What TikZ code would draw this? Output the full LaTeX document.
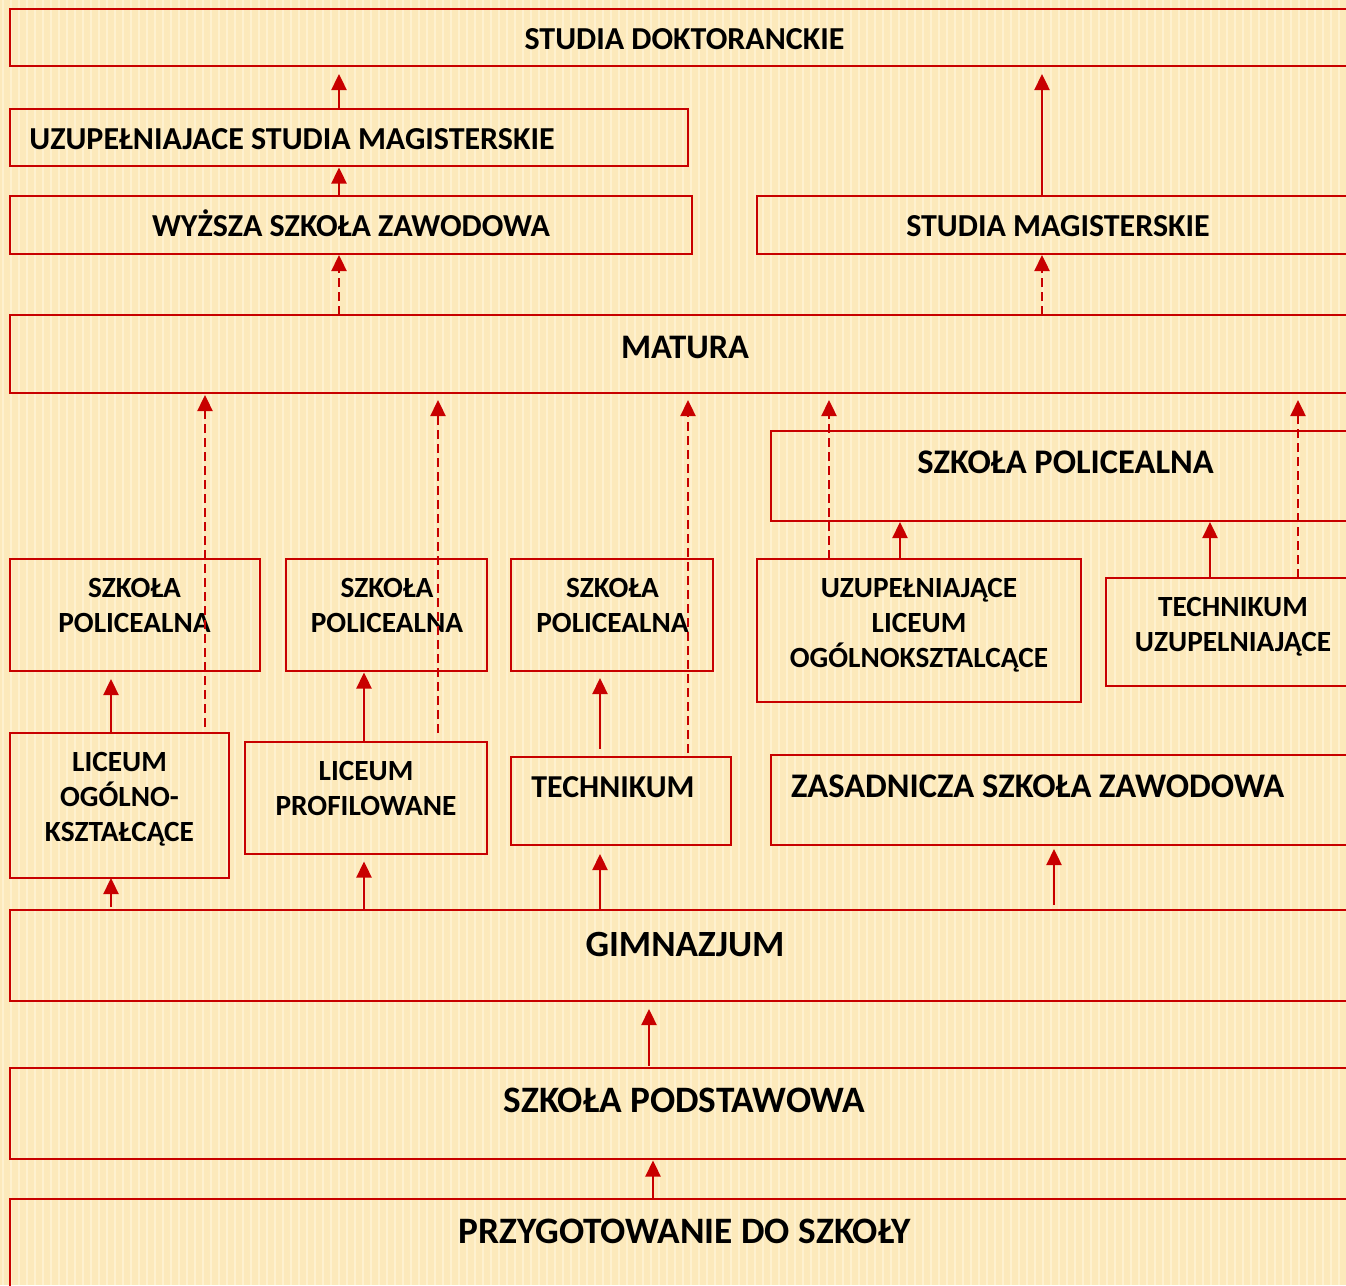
\documentclass[tikz,border=0pt]{standalone}
\usepackage{fontspec}
\setmainfont{Carlito}
\usetikzlibrary{arrows.meta}
\definecolor{bg}{RGB}{252,233,187}
\definecolor{stripe}{RGB}{254,241,207}
\definecolor{rd}{RGB}{200,0,0}
\begin{document}
\begin{tikzpicture}[x=1pt,y=-1pt,
  box/.style={draw=rd, line width=2pt, anchor=north west, inner sep=0pt, outer sep=0pt},
  lbl/.style={text=black, inner sep=0pt, anchor=base, align=center},
  fA/.style={font=\fontsize{32}{38}\selectfont\bfseries},
  fB/.style={font=\fontsize{37.3}{44}\selectfont\bfseries},
  fC/.style={font=\fontsize{29.3}{35}\selectfont\bfseries},
  fD/.style={font=\fontsize{34.5}{41}\selectfont\bfseries},
  arr/.style={draw=rd, line width=2.4pt, -{Triangle[width=15pt,length=16pt]}},
  darr/.style={arr, dash pattern=on 9pt off 5pt},
  stripeline/.style={draw=stripe, line width=2.5pt},
]
\useasboundingbox (0,0) rectangle (1346,1285);
\clip (0,0) rectangle (1346,1285);
\fill[bg] (0,0) rectangle (1346,1285);
\foreach \sx in {3,11,...,1346} {\path[stripeline] (\sx,0) -- (\sx,1285);}

% boxes
\node[box, minimum width=1350pt, minimum height=57pt] (doc) at (10,9) {};
\node[box, minimum width=678pt, minimum height=57pt] (usm) at (10,109) {};
\node[box, minimum width=682pt, minimum height=58pt] (wsz) at (10,196) {};
\node[box, minimum width=600pt, minimum height=58pt] (sm) at (757,196) {};
\node[box, minimum width=1350pt, minimum height=78pt] (mat) at (10,315) {};
\node[box, minimum width=590pt, minimum height=90pt] (spb) at (771,431) {};
\node[box, minimum width=250pt, minimum height=112pt] (sp1) at (10,559) {};
\node[box, minimum width=201pt, minimum height=112pt] (sp2) at (286,559) {};
\node[box, minimum width=202pt, minimum height=112pt] (sp3) at (511,559) {};
\node[box, minimum width=324pt, minimum height=143pt] (ulo) at (757,559) {};
\node[box, minimum width=260pt, minimum height=108pt] (tu) at (1106,578) {};
\node[box, minimum width=219pt, minimum height=145pt] (lo) at (10,733) {};
\node[box, minimum width=242pt, minimum height=112pt] (lp) at (245,742) {};
\node[box, minimum width=220pt, minimum height=88pt] (tech) at (511,757) {};
\node[box, minimum width=590pt, minimum height=90pt] (zsz) at (771,755) {};
\node[box, minimum width=1350pt, minimum height=91pt] (gim) at (10,910) {};
\node[box, minimum width=1350pt, minimum height=91pt] (spd) at (10,1068) {};
\node[box, minimum width=1350pt, minimum height=120pt] (prz) at (10,1199) {};

% labels (multi-line: base = last line)
\node[lbl, fA] (tdoc) at (684.5,49.5) {STUDIA DOKTORANCKIE};
\node[lbl, fA] (tusm) at (292,149) {UZUPEŁNIAJACE STUDIA MAGISTERSKIE};
\node[lbl, fA] (twsz) at (351,236) {WYŻSZA SZKOŁA ZAWODOWA};
\node[lbl, fA] (tsm) at (1058,236) {STUDIA MAGISTERSKIE};
\node[lbl, font=\fontsize{34.4}{41}\selectfont\bfseries] (tmat) at (685,358) {MATURA};
\node[lbl, fD] (tspb) at (1065.5,473) {SZKOŁA POLICEALNA};
\node[lbl, fC] (tsp1) at (134.5,632) {SZKOŁA\\POLICEALNA};
\node[lbl, fC] (tsp2) at (387,632) {SZKOŁA\\POLICEALNA};
\node[lbl, fC] (tsp3) at (612.5,632) {SZKOŁA\\POLICEALNA};
\node[lbl, fC] (tulo) at (919,667) {UZUPEŁNIAJĄCE\\LICEUM\\OGÓLNOKSZTALCĄCE};
\node[lbl, fC] (ttu) at (1233,651) {TECHNIKUM\\UZUPELNIAJĄCE};
\node[lbl, fC] (tlo) at (119.5,841.5) {LICEUM\\OGÓLNO-\\KSZTAŁCĄCE};
\node[lbl, fC] (tlp) at (366,815) {LICEUM\\PROFILOWANE};
\node[lbl, font=\fontsize{31.9}{38}\selectfont\bfseries] (ttech) at (613,797) {TECHNIKUM};
\node[lbl, fD, anchor=base west] (tzsz) at (791,797) {ZASADNICZA SZKOŁA ZAWODOWA};
\node[lbl, font=\fontsize{37}{44}\selectfont\bfseries] (tgim) at (685,956) {GIMNAZJUM};
\node[lbl, fB] (tspd) at (684.5,1112) {SZKOŁA PODSTAWOWA};
\node[lbl, fB] (tprz) at (685,1243) {PRZYGOTOWANIE DO SZKOŁY};

% arrow columns
\coordinate (c111) at (111,0);
\coordinate (c205) at (205,0);
\coordinate (c339) at (339,0);
\coordinate (c364) at (364,0);
\coordinate (c438) at (438,0);
\coordinate (c600) at (600,0);
\coordinate (c649) at (649,0);
\coordinate (c653) at (653,0);
\coordinate (c688) at (688,0);
\coordinate (c829) at (829,0);
\coordinate (c900) at (900,0);
\coordinate (c1042) at (1042,0);
\coordinate (c1054) at (1054,0);
\coordinate (c1210) at (1210,0);
\coordinate (c1298) at (1298,0);

% arrows
\draw[arr, shorten >=8pt] (usm.north -| c339) -- (doc.south -| c339);
\draw[arr, shorten >=1.5pt] (wsz.north -| c339) -- (usm.south -| c339);
\draw[darr, shorten >=1pt] (mat.north -| c339) -- (wsz.south -| c339);
\draw[arr, shorten >=8pt] (sm.north -| c1042) -- (doc.south -| c1042);
\draw[darr, shorten >=1pt] (mat.north -| c1042) -- (sm.south -| c1042);

\draw[darr, shorten <=6pt, shorten >=2pt] (lo.north -| c205) -- (mat.south -| c205);
\draw[darr, shorten <=9pt, shorten >=7pt] (lp.north -| c438) -- (mat.south -| c438);
\draw[darr, shorten <=4pt, shorten >=7pt] (tech.north -| c688) -- (mat.south -| c688);
\draw[darr, shorten >=7pt] (ulo.north -| c829) -- (mat.south -| c829);
\draw[darr, shorten >=7pt] (tu.north -| c1298) -- (mat.south -| c1298);

\draw[arr, shorten >=1pt] (ulo.north -| c900) -- (spb.south -| c900);
\draw[arr, shorten >=1pt] (tu.north -| c1210) -- (spb.south -| c1210);

\draw[arr, shorten >=8pt] (lo.north -| c111) -- (sp1.south -| c111);
\draw[arr, shorten >=1.5pt] (lp.north -| c364) -- (sp2.south -| c364);
\draw[arr, shorten <=8.5pt, shorten >=7pt] (tech.north -| c600) -- (sp3.south -| c600);

\draw[arr, shorten <=3pt] (gim.north -| c111) -- (lo.south -| c111);
\draw[arr, shorten >=7.5pt] (gim.north -| c364) -- (lp.south -| c364);
\draw[arr, shorten >=9pt] (gim.north -| c600) -- (tech.south -| c600);
\draw[arr, shorten <=5pt, shorten >=4pt] (gim.north -| c1054) -- (zsz.south -| c1054);

\draw[arr, shorten <=2pt, shorten >=8pt] (spd.north -| c649) -- (gim.south -| c649);
\draw[arr, shorten >=1.5pt] (prz.north -| c653) -- (spd.south -| c653);
\end{tikzpicture}
\end{document}
